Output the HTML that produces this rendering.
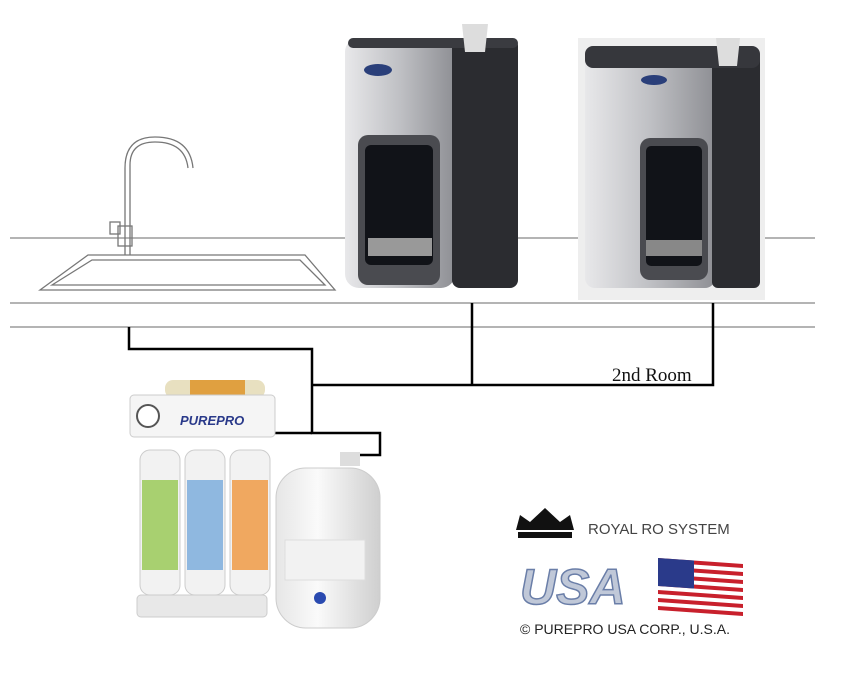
<!DOCTYPE html>
<html><head><meta charset="utf-8"><style>
html,body{margin:0;padding:0;background:#fff;}
body{width:841px;height:694px;position:relative;overflow:hidden;font-family:"Liberation Sans",sans-serif;}
</style></head><body>
<svg width="841" height="694" viewBox="0 0 841 694" xmlns="http://www.w3.org/2000/svg" style="position:absolute;left:0;top:0">
<defs>
<linearGradient id="sil" x1="0" x2="1"><stop offset="0" stop-color="#e8e8ea"/><stop offset="0.5" stop-color="#bfc0c4"/><stop offset="1" stop-color="#8e8f94"/></linearGradient>
<linearGradient id="tank" x1="0" x2="1"><stop offset="0" stop-color="#e6e6e6"/><stop offset="0.4" stop-color="#fafafa"/><stop offset="1" stop-color="#cfcfcf"/></linearGradient>
</defs>
<line x1="10" y1="238" x2="815" y2="238" stroke="#888" stroke-width="1.3"/>
<line x1="10" y1="303" x2="815" y2="303" stroke="#888" stroke-width="1.3"/>
<line x1="10" y1="327" x2="815" y2="327" stroke="#888" stroke-width="1.3"/>
<g fill="none" stroke="#777" stroke-width="1.3">
<path d="M40 290 L88 255 L305 255 L335 290 Z"/>
<path d="M52 285 L92 260 L300 260 L325 285 Z"/>
<path d="M130 255 L130 165 Q130 142 155 142 Q185 142 188 168"/>
<path d="M125 255 L125 168 Q125 137 155 137 Q190 137 193 168"/>
<rect x="110" y="222" width="10" height="12"/><rect x="118" y="226" width="14" height="20"/>
</g>
<!-- dispenser 1 -->
<rect x="345" y="38" width="110" height="250" rx="14" fill="url(#sil)"/>
<rect x="452" y="38" width="66" height="250" rx="8" fill="#2b2c30"/>
<rect x="348" y="38" width="170" height="10" rx="5" fill="#3a3b40"/>
<path d="M462 24 L488 24 L485 52 L465 52Z" fill="#ddd"/>
<rect x="358" y="135" width="82" height="150" rx="10" fill="#4a4b50"/>
<rect x="365" y="145" width="68" height="120" rx="6" fill="#111318"/>
<rect x="368" y="238" width="64" height="18" fill="#999"/>
<ellipse cx="378" cy="70" rx="14" ry="6" fill="#2a3f7a"/>
<!-- dispenser 2 -->
<rect x="578" y="38" width="187" height="262" fill="#eeeeee"/>
<rect x="585" y="48" width="130" height="240" rx="10" fill="url(#sil)"/>
<rect x="712" y="50" width="48" height="238" rx="6" fill="#2b2c30"/>
<rect x="585" y="46" width="175" height="22" rx="8" fill="#36373c"/>
<path d="M716 38 L740 38 L737 66 L719 66Z" fill="#ddd"/>
<rect x="640" y="138" width="68" height="142" rx="10" fill="#4a4b50"/>
<rect x="646" y="146" width="56" height="120" rx="5" fill="#111318"/>
<rect x="646" y="240" width="56" height="16" fill="#888"/>
<ellipse cx="654" cy="80" rx="13" ry="5" fill="#2a3f7a"/>
<g fill="none" stroke="#000" stroke-width="2.5">
<path d="M129 327 L129 349 L312 349 L312 433 L380 433 L380 455 L358 455"/>
<path d="M312 385 L713 385 L713 303"/>
<path d="M472 303 L472 385"/>
<path d="M275 433 L312 433"/>
</g>
<text x="612" y="381" font-family="Liberation Serif,serif" font-size="19" fill="#111">2nd Room</text>
<rect x="165" y="380" width="100" height="18" rx="8" fill="#e8e0c0"/>
<rect x="190" y="380" width="55" height="18" fill="#e0a040"/>
<rect x="130" y="395" width="145" height="42" rx="4" fill="#f5f5f5" stroke="#ccc"/>
<circle cx="148" cy="416" r="11" fill="#fff" stroke="#555" stroke-width="2"/>
<text x="180" y="425" font-size="13" font-style="italic" font-weight="bold" fill="#2a3a8a">PUREPRO</text>
<g stroke="#ccc">
<rect x="140" y="450" width="40" height="145" rx="10" fill="#f2f2f2"/>
<rect x="185" y="450" width="40" height="145" rx="10" fill="#f2f2f2"/>
<rect x="230" y="450" width="40" height="145" rx="10" fill="#f2f2f2"/>
</g>
<rect x="142" y="480" width="36" height="90" fill="#a8d070"/>
<rect x="187" y="480" width="36" height="90" fill="#8fb8e0"/>
<rect x="232" y="480" width="36" height="90" fill="#f0a860"/>
<rect x="137" y="595" width="130" height="22" rx="4" fill="#e8e8e8" stroke="#ccc"/>
<rect x="276" y="468" width="104" height="160" rx="30" fill="url(#tank)" stroke="#ccc"/>
<rect x="285" y="540" width="80" height="40" fill="#f2f2f2" stroke="#ddd"/>
<circle cx="320" cy="598" r="6" fill="#2a4ab0"/>
<rect x="340" y="452" width="20" height="14" fill="#ddd"/>
<path d="M516 530 L520 515 L530 522 L545 508 L560 522 L570 515 L574 530 Z" fill="#111"/>
<rect x="518" y="532" width="54" height="6" fill="#111"/>
<text x="588" y="534" font-size="15" fill="#444">ROYAL RO SYSTEM</text>
<text x="520" y="604" font-size="50" font-style="italic" font-weight="bold" fill="#c0c8d8" stroke="#6a7ea8" stroke-width="1.5">USA</text>
<g transform="translate(658,558) skewY(4)">
<rect x="0" y="0" width="85" height="52" fill="#fff"/>
<g fill="#c8202c"><rect y="0" width="85" height="4"/><rect y="8" width="85" height="4"/><rect y="16" width="85" height="4"/><rect y="24" width="85" height="4"/><rect y="32" width="85" height="4"/><rect y="40" width="85" height="4"/><rect y="48" width="85" height="4"/></g>
<rect x="0" y="0" width="36" height="28" fill="#2a3a8a"/>
</g>
<text x="520" y="634" font-size="14" fill="#222">© PUREPRO USA CORP., U.S.A.</text>
</svg>
</body></html>
